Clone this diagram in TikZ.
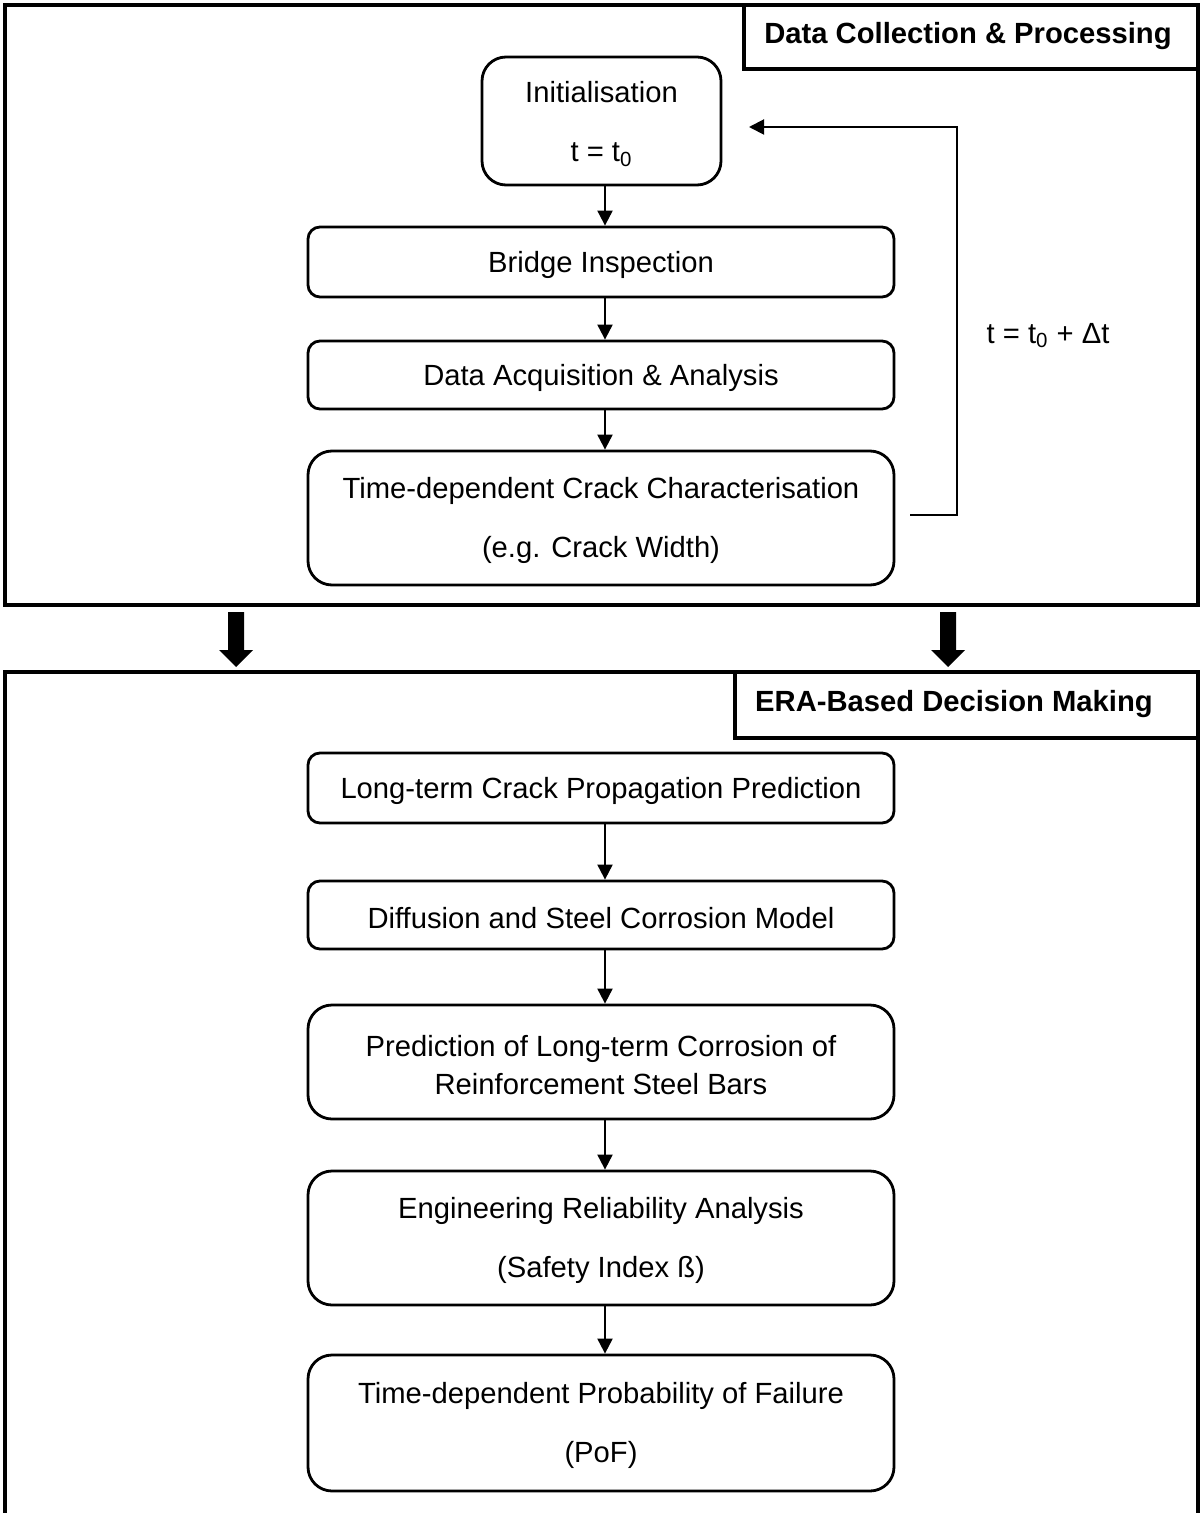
\documentclass[tikz,border=0pt]{standalone}
\usepackage{fontspec}
\setmainfont{Liberation Sans}
\usetikzlibrary{arrows.meta}
\newcommand{\lowerstrut}{\rule{0pt}{13.5pt}}
\begin{document}
\begin{tikzpicture}[x=0.5pt,y=-0.5pt,
  font=\fontsize{14.6}{17.5}\selectfont,
  panel/.style={line width=2pt},
  titlebox/.style={draw,line width=1.8pt,inner sep=0pt},
  titletext/.style={font=\fontsize{14.6}{17.5}\selectfont\bfseries},
  stepbox/.style={draw,line width=1.4pt,rounded corners=6pt,minimum width=293pt,align=center,inner sep=0pt},
  bigbox/.style={stepbox,rounded corners=12pt},
  flow/.style={line width=1pt,-{Triangle[length=7.5pt,width=7.5pt]}},
  blockarrow/.style={fill=black,draw=none}
]
\useasboundingbox (0,0) rectangle (1199,1513);
% panels
\draw[panel] (5,5) rectangle (1198,605);
\draw[panel] (5,1530) -- (5,672) -- (1198,672) -- (1198,1530);
% titles
\node[titlebox,minimum width=227pt,minimum height=32pt] (t1) at (971,37) {};
\node[titletext] (t1txt) at (968,33) {\lowerstrut Data Collection \& Processing};
\node[titlebox,minimum width=232pt,minimum height=33pt] (t2) at (967,705) {};
\node[titletext] (t2txt) at (954,701) {\lowerstrut ERA-Based Decision Making};
% top boxes
\node[bigbox,minimum width=119.5pt,minimum height=64pt] (init) at (601.5,121) {\lowerstrut Initialisation\\[12pt]t = t\textsubscript{0}};
\node[stepbox,minimum height=35pt] (bridge) at (601,262) {\lowerstrut Bridge Inspection};
\node[stepbox,minimum height=34pt] (daq) at (601,375) {\lowerstrut Data Acquisition \& Analysis};
\node[bigbox,minimum height=67pt] (crack) at (601,518) {\lowerstrut Time-dependent Crack Characterisation\\[12pt](e.g. Crack Width)};
% bottom boxes
\node[stepbox,minimum height=35pt] (ltc) at (601,788) {\lowerstrut Long-term Crack Propagation Prediction};
\node[stepbox,minimum height=34pt] (diff) at (601,915) {\lowerstrut Diffusion and Steel Corrosion Model};
\node[bigbox,minimum height=57pt] (pred) at (601,1062) {\lowerstrut Prediction of Long-term Corrosion of\\[1.5pt]Reinforcement Steel Bars};
\node[bigbox,minimum height=67pt] (era) at (601,1238) {\lowerstrut Engineering Reliability Analysis\\[12pt](Safety Index ß)};
\node[bigbox,minimum height=68pt] (pof) at (601,1423) {\lowerstrut Time-dependent Probability of Failure\\[12pt](PoF)};
% flow arrows
\draw[flow] (init.south -| 605,0) -- (bridge.north -| 605,0);
\draw[flow] (bridge.south -| 605,0) -- (daq.north -| 605,0);
\draw[flow] (daq.south -| 605,0) -- (crack.north -| 605,0);
\draw[flow] (ltc.south -| 605,0) -- (diff.north -| 605,0);
\draw[flow] (diff.south -| 605,0) -- (pred.north -| 605,0);
\draw[flow] (pred.south -| 605,0) -- (era.north -| 605,0);
\draw[flow] (era.south -| 605,0) -- (pof.north -| 605,0);
% feedback loop
\coordinate (fbstart) at (910,515);
\coordinate (fbcorner) at (957,127);
\coordinate (fbend) at (749,127);
\draw[flow] (fbstart) -| (fbcorner) -- (fbend);
\node (dt) at (1048,332) {\lowerstrut t = t\textsubscript{0} + Δt};
% block arrows
\fill[blockarrow] (228,612) -- (244,612) -- (244,650) -- (253,650) -- (236,667) -- (219,650) -- (228,650) -- cycle;
\fill[blockarrow] (940,612) -- (956,612) -- (956,650) -- (965,650) -- (948,667) -- (931,650) -- (940,650) -- cycle;
\end{tikzpicture}
\end{document}
